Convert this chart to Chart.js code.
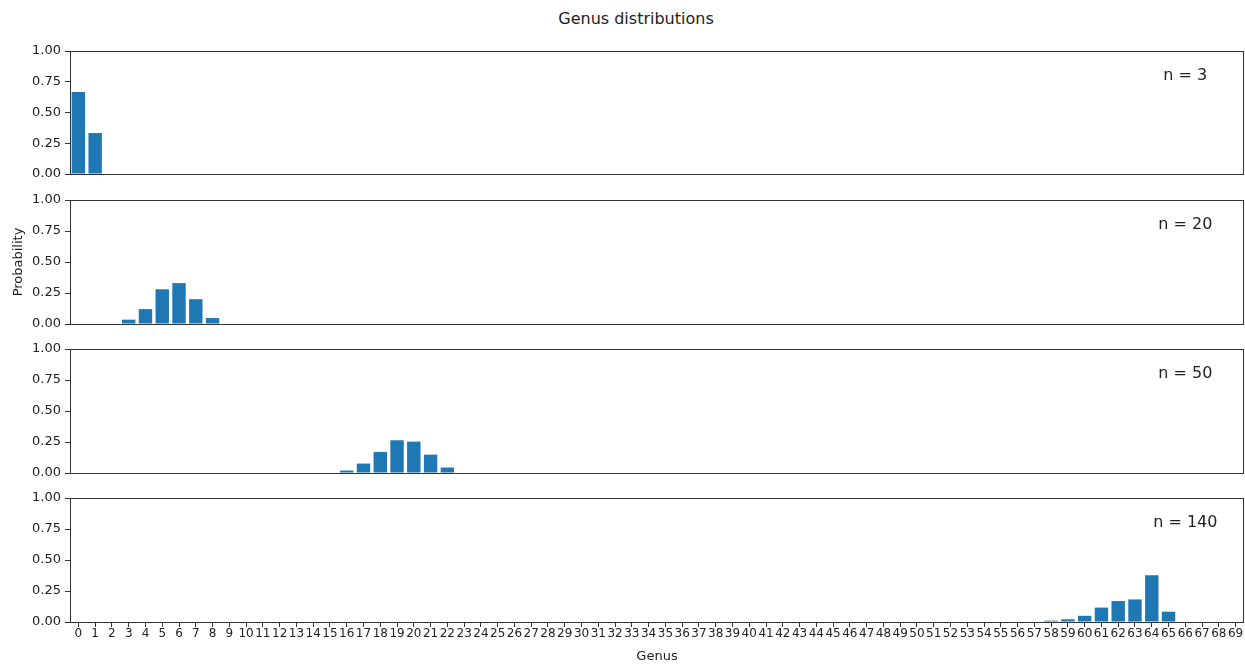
<!DOCTYPE html>
<html>
<head>
<meta charset="utf-8">
<title>Genus distributions</title>
<script src="https://cdn.jsdelivr.net/npm/chart.js@4.4.1/dist/chart.umd.min.js"></script>
<style>
  body {
    margin: 0;
    background: #fff;
    width: 1245px;
    height: 664px;
    position: relative;
    overflow: hidden;
    font-family: "DejaVu Sans", sans-serif;
  }
  .panel { position: absolute; left: 0; }
  #title {
    position: absolute;
    left: 0;
    top: 9px;
    width: 1272px;
    text-align: center;
    font-size: 16px;
    line-height: 20px;
    color: #222;
  }
</style>
</head>
<body>
<div id="title">Genus distributions</div>
<canvas id="panelN3" class="panel" width="1245" height="143" style="top:41px"></canvas>
<canvas id="panelN20" class="panel" width="1245" height="144" style="top:190px"></canvas>
<canvas id="panelN50" class="panel" width="1245" height="144" style="top:339px"></canvas>
<canvas id="panelN140" class="panel" width="1245" height="176" style="top:488px"></canvas>
<script>
// genus categories on the shared x axis
const genusLabels = Array.from({ length: 70 }, (_, i) => String(i));
const yTicks = [0, 0.25, 0.5, 0.75, 1];
const sampleSizes = [3, 20, 50, 140];

// probability of each genus, per sample size
const genusN3 = [0, 1];
const probN3 = [0.667, 0.333];

const genusN20 = [3, 4, 5, 6, 7, 8];
const probN20 = [0.035, 0.12, 0.28, 0.33, 0.2, 0.048];

const genusN50 = [16, 17, 18, 19, 20, 21, 22];
const probN50 = [0.02, 0.076, 0.17, 0.264, 0.253, 0.148, 0.044];

const genusN140 = [58, 59, 60, 61, 62, 63, 64, 65];
const probN140 = [0.011, 0.022, 0.05, 0.116, 0.169, 0.182, 0.377, 0.083];

Chart.defaults.font.family = '"DejaVu Sans", sans-serif';
Chart.defaults.font.size = 13;
Chart.defaults.color = "#222";

// box around each axes plus the "n = ..." note in the upper right
const frameAndNote = {
  id: "frameAndNote",
  afterDatasetsDraw(chart, args, opts) {
    const { ctx, chartArea: a } = chart;
    ctx.save();
    ctx.strokeStyle = "#333";
    ctx.lineWidth = 1;
    ctx.strokeRect(a.left + 0.5, a.top + 0.5, a.right - a.left - 1, a.bottom - a.top);
    ctx.font = '16px "DejaVu Sans"';
    ctx.fillStyle = "#222";
    ctx.textAlign = "center";
    ctx.textBaseline = "middle";
    ctx.fillText(opts.text, a.left + 0.95 * (a.right - a.left), a.top + 0.2 * (a.bottom - a.top));
    ctx.restore();
  },
};

const panels = [
  { id: "panelN3", n: sampleSizes[0], genus: genusN3, prob: probN3 },
  { id: "panelN20", n: sampleSizes[1], genus: genusN20, prob: probN20 },
  { id: "panelN50", n: sampleSizes[2], genus: genusN50, prob: probN50 },
  { id: "panelN140", n: sampleSizes[3], genus: genusN140, prob: probN140 },
];

panels.forEach(function (p, idx) {
  const last = idx === panels.length - 1;
  new Chart(document.getElementById(p.id), {
    type: "bar",
    data: {
      labels: genusLabels,
      datasets: [
        {
          data: p.genus.map((g, i) => ({ x: String(g), y: p.prob[i] })),
          backgroundColor: "#1f77b4",
          categoryPercentage: 0.8,
          barPercentage: 1,
        },
      ],
    },
    options: {
      responsive: false,
      animation: false,
      layout: { padding: { top: 10, bottom: last ? 0 : 10, left: 0, right: 1 } },
      plugins: {
        legend: { display: false },
        tooltip: { enabled: false },
        frameAndNote: { text: "n = " + p.n },
      },
      scales: {
        x: {
          display: last,
          grid: { display: true, drawOnChartArea: false, offset: false, tickLength: 5, color: "#333" },
          border: { display: false },
          ticks: { autoSkip: false, maxRotation: 0, minRotation: 0, padding: 0, font: { size: 12 } },
          title: { display: last, text: "Genus", padding: { top: 0, bottom: 0 } },
          afterFit(scale) {
            scale.height = last ? 42 : 0;
          },
        },
        y: {
          min: 0,
          max: 1,
          grid: { display: true, drawOnChartArea: false, tickLength: 5, color: "#333" },
          border: { display: false },
          ticks: { padding: 4, callback: (v) => v.toFixed(2) },
          afterBuildTicks(scale) {
            scale.ticks = yTicks.map((v) => ({ value: v }));
          },
          title: { display: p.n === 20, text: "Probability", padding: { top: 11, bottom: 0 } },
          afterFit(scale) {
            // fixed axis width so all four plot areas line up
            scale.width = 70;
            scale.paddingTop = 0;
            scale.paddingBottom = 0;
          },
        },
      },
    },
    plugins: [frameAndNote],
  });
});
</script>
</body>
</html>
